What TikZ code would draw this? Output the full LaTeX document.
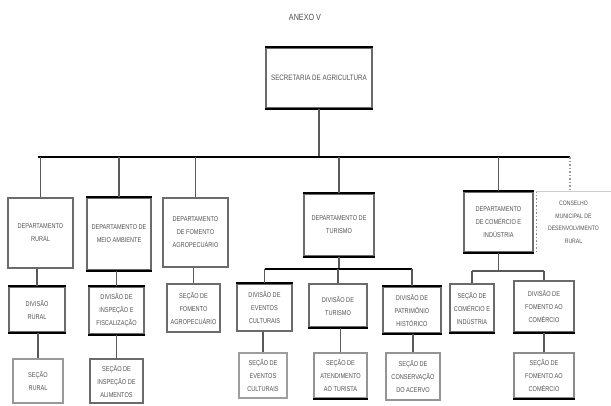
\documentclass[tikz,border=0pt]{standalone}
\usepackage{fontspec}
\setmainfont{Liberation Sans}
\newfontfamily\boxfont[FakeStretch=0.8]{Liberation Sans}
\begin{document}
\begin{tikzpicture}[x=1pt,y=-1pt,
  box/.style={draw=black!58, line width=1.5pt, fill=white, align=center,
    inner sep=1pt, font=\boxfont\fontsize{7}{13}\selectfont, text=black!68},
  link/.style={draw=black!65, line width=1.4pt},
  bus/.style={draw=black, line width=1.7pt},
  heavy/.style={draw=black, line width=2.3pt}]
\useasboundingbox (0,0) rectangle (611,405);

\node[font=\boxfont\fontsize{9}{10}\selectfont, text=black!70] (title) at (305,17) {ANEXO V};

% top level
\node[box, minimum width=106pt, minimum height=60pt, font=\boxfont\fontsize{7.8}{13}\selectfont] (top) at (319,78) {SECRETARIA DE AGRICULTURA};

% departments
\node[box, minimum width=65pt, minimum height=70pt] (b1) at (40.5,233) {DEPARTAMENTO\\RURAL};
\node[box, minimum width=64pt, minimum height=72pt] (b2) at (119,234) {DEPARTAMENTO DE\\MEIO AMBIENTE};
\node[box, minimum width=65pt, minimum height=69pt] (b3) at (195.5,232.5) {DEPARTAMENTO\\DE FOMENTO\\AGROPECUÁRIO};
\node[box, minimum width=70pt, minimum height=62pt] (b4) at (339,225) {DEPARTAMENTO DE\\TURISMO};
\node[box, minimum width=69pt, minimum height=60pt] (b5) at (498.5,222) {DEPARTAMENTO\\DE COMÉRCIO E\\INDÚSTRIA};
\node[box, draw=none, minimum width=73pt, minimum height=61pt, font=\boxfont\fontsize{6.4}{12.5}\selectfont] (b6) at (573.5,222.5) {CONSELHO\\MUNICIPAL DE\\DESENVOLVIMENTO\\RURAL};

% divisions
\node[box, minimum width=56pt, minimum height=45pt] (e1) at (37,309.5) {DIVISÃO\\RURAL};
\node[box, minimum width=55pt, minimum height=47pt] (e2) at (116.5,310.5) {DIVISÃO DE\\INSPEÇÃO E\\FISCALIZAÇÃO};
\node[box, minimum width=53pt, minimum height=48pt] (e3) at (193.5,308) {SEÇÃO DE\\FOMENTO\\AGROPECUÁRIO};
\node[box, minimum width=55pt, minimum height=47pt] (c1) at (264.5,307.5) {DIVISÃO DE\\EVENTOS\\CULTURAIS};
\node[box, minimum width=58pt, minimum height=43pt] (c2) at (338,305.5) {DIVISÃO DE\\TURISMO};
\node[box, minimum width=58pt, minimum height=46pt] (c3) at (412,310) {DIVISÃO DE\\PATRIMÔNIO\\HISTÓRICO};
\node[box, minimum width=44pt, minimum height=48pt] (g1) at (472,308) {SEÇÃO DE\\COMÉRCIO E\\INDÚSTRIA};
\node[box, minimum width=60pt, minimum height=51pt] (g2) at (544,306.5) {DIVISÃO DE\\FOMENTO AO\\COMÉRCIO};

% sections
\node[box, draw=black!40, minimum width=50pt, minimum height=44pt] (f1) at (38,381) {SEÇÃO\\RURAL};
\node[box, minimum width=53pt, minimum height=44pt] (f2) at (116.5,381) {SEÇÃO DE\\INSPEÇÃO DE\\ALIMENTOS};
\node[box, draw=black!38, minimum width=48pt, minimum height=45pt] (d1) at (263,375.5) {SEÇÃO DE\\EVENTOS\\CULTURAIS};
\node[box, draw=black!42, minimum width=53pt, minimum height=45pt] (d2) at (340.5,375.5) {SEÇÃO DE\\ATENDIMENTO\\AO TURISTA};
\node[box, draw=black!42, minimum width=54pt, minimum height=47pt] (d3) at (413,376.5) {SEÇÃO DE\\CONSERVAÇÃO\\DO ACERVO};
\node[box, draw=black!45, minimum width=60pt, minimum height=45pt] (h2) at (544,375.5) {SEÇÃO DE\\FOMENTO AO\\COMÉRCIO};

% heavy top and bottom edges
\foreach \n in {top,b2,b4,b5,e1,e2,c1,c3} \draw[heavy] (\n.north west) -- (\n.north east);
\foreach \n in {top,b2,b4,b5,e1,e2,c2,c3,g1,g2,h2,d2}  \draw[heavy] (\n.south west) -- (\n.south east);

% council box: dotted left edge, light top rule
\draw[black!45, line width=1.5pt, dash pattern=on 1.5pt off 2pt] (b6.north west) -- (b6.south west);
\draw[black!20, line width=0.8pt] (b6.north west) -- (b6.north east);

% main bus
\coordinate (busL) at (38,157);
\coordinate (busR) at (570,157);
\draw[link] (top.south) -- (top.south |- busL);
\draw[bus] (busL) -- (busR);
\foreach \n in {b1,b2,b3,b4,b5} \draw[link] (\n.north) -- (\n.north |- busL);
\draw[black!40, line width=1.5pt, dash pattern=on 1.5pt off 2pt] (busR) -- (busR |- b6.north);

% left branches
\draw[link] (e1.north) -- (e1.north |- b1.south);
\draw[link] (f1.north) -- (f1.north |- e1.south);
\draw[link] (e2.north) -- (e2.north |- b2.south);
\draw[link] (f2.north) -- (f2.north |- e2.south);
\draw[link] (e3.north) -- (e3.north |- b3.south);

% tourism branch
\coordinate (tbL) at (264.5,269);
\coordinate (tbR) at (412,269);
\draw[link] (b4.south) -- (b4.south |- tbL);
\draw[bus] (tbL) -- (tbR);
\foreach \n in {c1,c2,c3} \draw[link] (\n.north) -- (\n.north |- tbL);
\draw[link] (d1.north) -- (d1.north |- c1.south);
\draw[link] (d2.north) -- (d2.north |- c2.south);
\draw[link] (d3.north) -- (d3.north |- c3.south);

% commerce branch
\coordinate (cbL) at (472,271);
\coordinate (cbR) at (544,271);
\draw[link] (b5.south) -- (b5.south |- cbL);
\draw[link] (cbL) -- (cbR);
\foreach \n in {g1,g2} \draw[link] (\n.north) -- (\n.north |- cbL);
\draw[link] (h2.north) -- (h2.north |- g2.south);
\end{tikzpicture}
\end{document}
